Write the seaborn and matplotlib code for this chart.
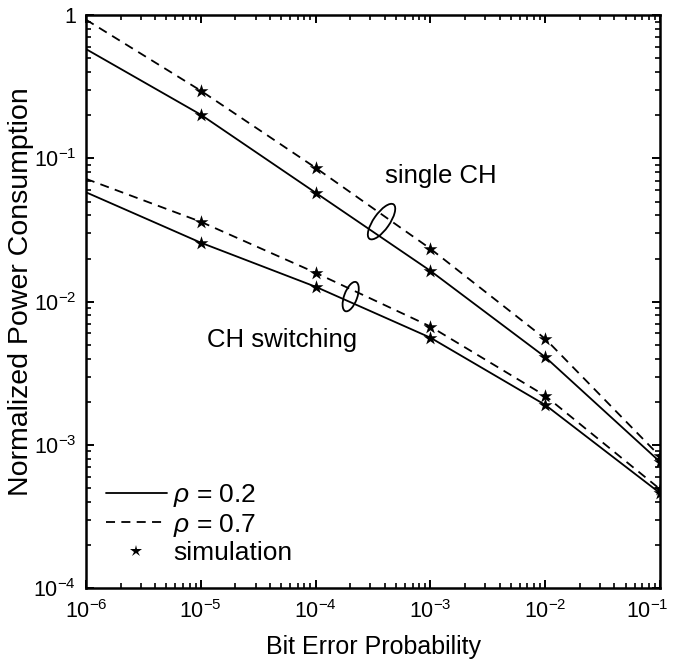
import numpy as np
import pandas as pd
import matplotlib
matplotlib.use("Agg")
import matplotlib.pyplot as plt
import seaborn as sns
from matplotlib.patches import Ellipse
from matplotlib import transforms
from matplotlib.lines import Line2D
from matplotlib.ticker import FixedLocator, FixedFormatter, LogLocator, NullFormatter

# data
ber = [1e-6, 1e-5, 1e-4, 1e-3, 1e-2, 1e-1]
single_rho02 = [0.58, 0.202, 0.0576, 0.0164, 0.0041, 7.6e-4]
single_rho07 = [0.93, 0.297, 0.086, 0.0234, 0.0055, 8.3e-4]
switch_rho02 = [0.058, 0.0258, 0.0127, 0.0056, 0.0019, 4.6e-4]
switch_rho07 = [0.072, 0.0361, 0.0159, 0.0067, 0.0022, 4.9e-4]
sim_ber = [1e-5, 1e-4, 1e-3, 1e-2, 1e-1]

xtick_vals = [1e-6, 1e-5, 1e-4, 1e-3, 1e-2, 1e-1]
xtick_labels = ["$10^{-6}$", "$10^{-5}$", "$10^{-4}$", "$10^{-3}$", "$10^{-2}$", "$10^{-1}$"]
ytick_vals = [1e-4, 1e-3, 1e-2, 1e-1, 1]
ytick_labels = ["$10^{-4}$", "$10^{-3}$", "$10^{-2}$", "$10^{-1}$", "1"]

sns.set_theme(style="ticks")
plt.rcParams['font.family'] = ['Liberation Sans', 'DejaVu Sans']
plt.rcParams['mathtext.fontset'] = 'custom'
plt.rcParams['mathtext.rm'] = 'Liberation Sans'
plt.rcParams['mathtext.it'] = 'Liberation Sans:italic'
plt.rcParams['mathtext.default'] = 'regular'
for key in ['text.color', 'axes.labelcolor', 'xtick.color', 'ytick.color', 'axes.edgecolor']:
    plt.rcParams[key] = 'black'

# long-format table
rows = []
for scheme, rho, vals in [("single", "0.2", single_rho02), ("single", "0.7", single_rho07),
                          ("switch", "0.2", switch_rho02), ("switch", "0.7", switch_rho07)]:
    for b, v in zip(ber, vals):
        rows.append({"ber": b, "power": v, "rho": rho, "scheme": scheme})
df = pd.DataFrame(rows)
df["line"] = df["scheme"] + df["rho"]

fig = plt.figure(figsize=(6.77, 6.6), dpi=100)
ax = fig.add_axes([0.127, 0.109, 0.848, 0.868])

sns.lineplot(data=df, x="ber", y="power", style="rho", units="line", estimator=None,
             color="black", lw=1.3, dashes={"0.2": "", "0.7": (5, 3.5)},
             legend=False, ax=ax)
sim = df[df["ber"].isin(sim_ber)]
sns.scatterplot(data=sim, x="ber", y="power", marker="*", s=110, color="black",
                linewidth=0, legend=False, ax=ax, zorder=3)

ax.set_xscale("log")
ax.set_yscale("log")
ax.set_xlim(1e-6, 1e-1)
ax.set_ylim(1e-4, 1)

ax.xaxis.set_major_locator(FixedLocator(xtick_vals))
ax.xaxis.set_major_formatter(FixedFormatter(xtick_labels))
ax.yaxis.set_major_locator(FixedLocator(ytick_vals))
ax.yaxis.set_major_formatter(FixedFormatter(ytick_labels))
ax.xaxis.set_minor_locator(LogLocator(base=10, subs=np.arange(2, 10)))
ax.yaxis.set_minor_locator(LogLocator(base=10, subs=np.arange(2, 10)))
ax.xaxis.set_minor_formatter(NullFormatter())
ax.yaxis.set_minor_formatter(NullFormatter())

ax.tick_params(which="both", direction="in", top=True, right=True, colors="black")
ax.tick_params(which="major", length=6, width=1.4, labelsize=15.5)
ax.tick_params(axis="x", which="major", pad=9)
ax.tick_params(axis="y", which="major", pad=7)
ax.tick_params(which="minor", length=3.5, width=1.2)
for s in ax.spines.values():
    s.set_linewidth(1.8)
    s.set_color("black")

# last x tick label sits on the figure edge, nudge it inside
last = ax.get_xticklabels()[-1]
last.set_transform(last.get_transform() + transforms.ScaledTranslation(-9 / 72, 0, fig.dpi_scale_trans))

ax.set_xlabel("Bit Error Probability", fontsize=18)
ax.set_ylabel("Normalized Power Consumption", fontsize=20.5)
ax.xaxis.set_label_coords(0.5, -0.082)
ax.yaxis.set_label_coords(-0.09, 0.517)

# annotations
ax.text(4.06e-4, 0.0758, "single CH", fontsize=18.5, va="center", ha="left")
ax.text(1.14e-5, 0.00543, "CH switching", fontsize=18.5, va="center", ha="left")

for (xc, yc, w, h, ang) in [(3.75e-4, 0.0362, 0.42, 0.16, 55), (2.02e-4, 0.01084, 0.31, 0.13, 70)]:
    tr = fig.dpi_scale_trans + transforms.ScaledTranslation(xc, yc, ax.transData)
    ax.add_patch(Ellipse((0, 0), w, h, angle=ang, transform=tr, fill=False,
                         edgecolor="black", lw=1.3, zorder=4))

handles = [Line2D([], [], color="black", lw=1.3, ls="-"),
           Line2D([], [], color="black", lw=1.3, ls=(0, (5, 3.5))),
           Line2D([], [], color="black", marker="*", ls="none", ms=9, mew=0)]
labels = [r"$\it{\rho}$ = 0.2", r"$\it{\rho}$ = 0.7", "simulation"]
ax.legend(handles, labels, loc="lower left", bbox_to_anchor=(0.035, 0.04), frameon=False,
          fontsize=19, handlelength=2.3, handletextpad=0.25, labelspacing=0.1,
          borderaxespad=0, borderpad=0, labelcolor="black")

fig.savefig("out.png", dpi=100)
